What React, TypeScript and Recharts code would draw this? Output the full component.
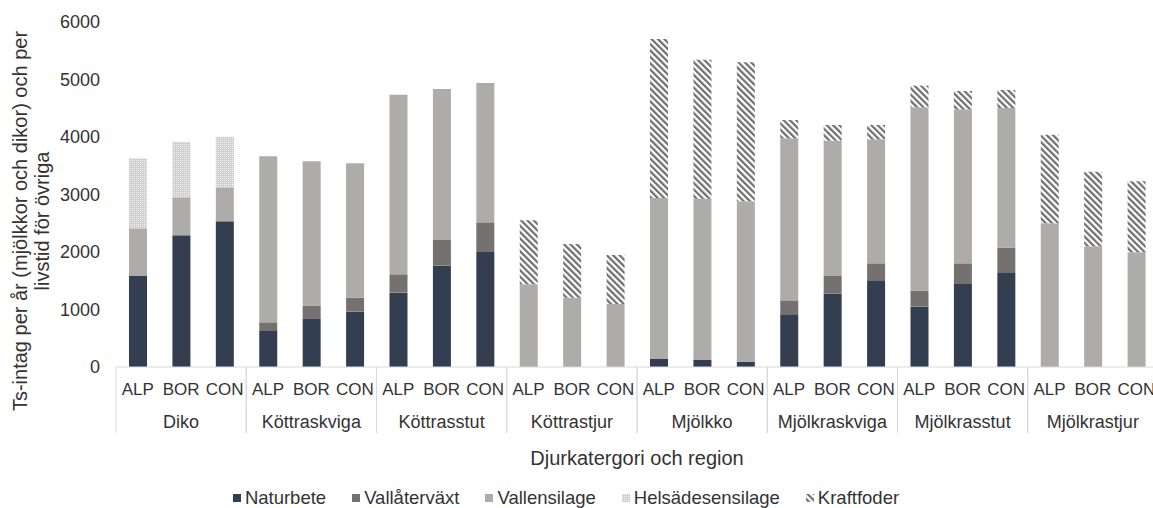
import React from 'react';
import { BarChart, Bar, XAxis, YAxis, Legend } from 'recharts';

const groups = [
  'Diko',
  'Köttraskviga',
  'Köttrasstut',
  'Köttrastjur',
  'Mjölkko',
  'Mjölkraskviga',
  'Mjölkrasstut',
  'Mjölkrastjur',
];
const regions = ['ALP', 'BOR', 'CON'];
const yTicks = [0, 1000, 2000, 3000, 4000, 5000, 6000];

// one value per group x region (ALP, BOR, CON)
const naturbete = [1583, 2290, 2533, 626, 847, 962, 1293, 1762, 2000, 0, 0, 0, 139, 122, 93, 916, 1275, 1507, 1049, 1443, 1646, 0, 0, 0];
const vallaterväxt = [0, 0, 0, 151, 220, 243, 319, 447, 516, 0, 0, 0, 0, 0, 0, 243, 308, 296, 279, 360, 429, 0, 0, 0];
const vallensilage = [829, 661, 592, 2887, 2510, 2337, 3124, 2626, 2423, 1438, 1206, 1096, 2800, 2806, 2788, 2818, 2353, 2156, 3188, 2678, 2429, 2499, 2099, 1995];
const helsadesensilage = [1218, 968, 881, 0, 0, 0, 0, 0, 0, 0, 0, 0, 0, 0, 0, 0, 0, 0, 0, 0, 0, 0, 0, 0];
const kraftfoder = [0, 0, 0, 0, 0, 0, 0, 0, 0, 1113, 933, 852, 2765, 2417, 2417, 319, 273, 250, 377, 319, 313, 1541, 1298, 1234];

const seriesNames = ['Naturbete', 'Vallåterväxt', 'Vallensilage', 'Helsädesensilage', 'Kraftfoder'];
const seriesValues = [naturbete, vallaterväxt, vallensilage, helsadesensilage, kraftfoder];
const seriesFills = ['#333f50', '#767171', '#aeabab', 'url(#helsade)', 'url(#kraft)'];

const data = groups.flatMap((group, gi) =>
  regions.map((region, ri) => {
    const i = gi * regions.length + ri;
    const row: Record<string, string | number> = { id: `${group}-${region}`, group, region };
    seriesNames.forEach((name, si) => {
      row[name] = seriesValues[si][i];
    });
    return row;
  })
);

const TEXT = '#333333';
const LINE = '#d9d9d9';
const FONT = '"Liberation Sans", Arial, sans-serif';

const CHART_W = 1165;
const CHART_H = 508;
const MARGIN = { top: 22, right: 7, left: 0, bottom: 0 };
const Y_AXIS_W = 116;
const BAND = (CHART_W - MARGIN.left - MARGIN.right - Y_AXIS_W) / data.length;

function CategoryTick(props: any) {
  const { x, y, payload } = props;
  const i: number = props.index ?? payload.index;
  const row = data[i];
  if (!row) return null;
  const half = payload.offset || BAND / 2;
  return (
    <g>
      <text x={x} y={y + 28} textAnchor="middle" fontSize={17} fill={TEXT} fontFamily={FONT}>
        {row.region}
      </text>
      {i % 3 === 1 && (
        <text x={x} y={y + 61} textAnchor="middle" fontSize={18} fill={TEXT} fontFamily={FONT}>
          {row.group}
        </text>
      )}
      {i % 3 === 0 && <line x1={x - half} x2={x - half} y1={y} y2={y + 66} stroke={LINE} />}
      {i % 3 === 2 && <line x1={x + half} x2={x + half} y1={y} y2={y + 66} stroke={LINE} />}
    </g>
  );
}

function YTitle() {
  return (
    <g fontFamily={FONT} fontSize={20} fill={TEXT}>
      <text x={27} y={221} textAnchor="middle" transform="rotate(-90 27 221)">
        Ts-intag per år (mjölkkor och dikor) och per
      </text>
      <text x={49} y={221} textAnchor="middle" transform="rotate(-90 49 221)">
        livstid för övriga
      </text>
    </g>
  );
}

function LegendContent() {
  return (
    <div
      style={{
        display: 'flex',
        justifyContent: 'center',
        height: 18,
        lineHeight: '18px',
        fontSize: 18.5,
        fontFamily: FONT,
        color: TEXT,
      }}
    >
      {seriesNames.map((name, i) => (
        <div key={name} style={{ display: 'flex', alignItems: 'center', marginRight: 26, position: 'relative', top: -1 }}>
          <svg width={8} height={8} style={{ marginRight: 4 }}>
            <rect width={8} height={8} fill={seriesFills[i]} />
          </svg>
          <span>{name}</span>
        </div>
      ))}
    </div>
  );
}

export default function App() {
  return (
    <div
      style={{
        position: 'absolute',
        left: 0,
        top: 0,
        width: 1153,
        height: 508,
        overflow: 'hidden',
        background: '#fff',
      }}
    >
      <svg width={0} height={0} style={{ position: 'absolute' }}>
        <defs>
          <pattern id="helsade" width={2} height={2} patternUnits="userSpaceOnUse">
            <rect width={2} height={2} fill="#cfcfcf" />
            <rect width={1} height={1} fill="#f2f2f2" />
          </pattern>
          <pattern id="kraft" width={4.5} height={4.5} patternUnits="userSpaceOnUse" patternTransform="rotate(-45)">
            <rect width={4.5} height={4.5} fill="#ffffff" />
            <rect width={2.2} height={4.5} fill="#6e6e6e" />
          </pattern>
        </defs>
      </svg>
      <BarChart width={CHART_W} height={CHART_H} data={data} margin={MARGIN} barSize={18}>
        <XAxis
          dataKey="id"
          interval={0}
          tickLine={false}
          tickSize={0}
          tickMargin={0}
          height={123}
          axisLine={{ stroke: LINE }}
          tick={<CategoryTick />}
          label={{
            value: 'Djurkatergori och region',
            position: 'insideBottom',
            offset: 25,
            fontSize: 20,
            fill: TEXT,
            fontFamily: FONT,
          }}
        />
        <YAxis
          width={Y_AXIS_W}
          domain={[0, 6000]}
          ticks={yTicks}
          axisLine={false}
          tickLine={false}
          tickSize={0}
          tickMargin={16}
          tick={{ fontSize: 18, fill: TEXT, fontFamily: FONT }}
          label={() => <YTitle />}
        />
        <Legend verticalAlign="bottom" align="center" content={() => <LegendContent />} />
        {seriesNames.map((name, i) => (
          <Bar key={name} dataKey={name} stackId="a" fill={seriesFills[i]} isAnimationActive={false} />
        ))}
      </BarChart>
    </div>
  );
}
